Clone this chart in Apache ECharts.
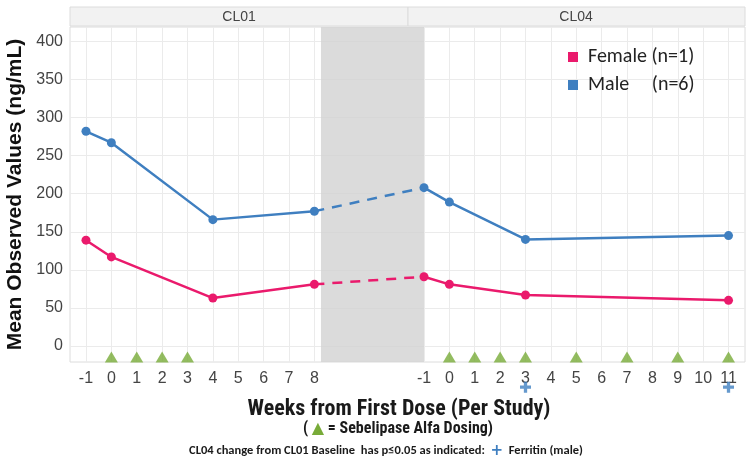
<!DOCTYPE html>
<html>
<head>
<meta charset="utf-8">
<script src="https://cdn.jsdelivr.net/npm/echarts@6/dist/echarts.min.js"></script>
<style>
html,body{margin:0;padding:0;background:#fff;}
#c{width:750px;height:461px;}
</style>
</head>
<body>
<div id="c"></div>
<script>
// ---- data ----
const studies = ['CL01', 'CL04'];
const cl01Ticks = [-1, 0, 1, 2, 3, 4, 5, 6, 7, 8];
const cl04Ticks = [-1, 0, 1, 2, 3, 4, 5, 6, 7, 8, 9, 10, 11];
const yTicks = [0, 50, 100, 150, 200, 250, 300, 350, 400];

const cl01Weeks = [-1, 0, 4, 8];
const cl04Weeks = [-1, 0, 3, 11];
const femaleCL01 = [139, 117, 63, 81];
const femaleCL04 = [91, 81, 67, 60];
const maleCL01 = [282, 267, 166, 177];
const maleCL04 = [208, 189, 140, 145];

const dosingCL01 = [0, 1, 2, 3];
const dosingCL04 = [0, 1, 2, 3, 5, 7, 9, 11];
const ferritinSigCL04 = [3, 11];

const femaleName = 'Female (n=1)';
const maleName = 'Male     (n=6)';

// ---- layout helpers ----
const CL04_OFFSET = 13.32;          // axis units where CL04 week -1 sits
const posCL01 = w => w + 1;
const posCL04 = w => w + 1 + CL04_OFFSET;
const BAND = [9.26, CL04_OFFSET];
const TRI_Y = -14.5;
const PLUS_Y = -54;

const pink = '#ea1a6c';
const blue = '#3f7fc0';
const green = '#78ab38';
const arial = "'Liberation Sans', Arial, sans-serif";
const narrow = "'Roboto Condensed', 'Liberation Sans', sans-serif";
const calibri = "Carlito, Lato, sans-serif";

const pairs = (weeks, vals, f) => weeks.map((w, i) => [f(w), vals[i]]);

const tickPositions = cl01Ticks.map(posCL01).concat(cl04Ticks.map(posCL04));
const tickLabelMap = {};
cl01Ticks.forEach(w => tickLabelMap[posCL01(w).toFixed(2)] = String(w));
cl04Ticks.forEach(w => tickLabelMap[posCL04(w).toFixed(2)] = String(w));

function solid(name, data, color) {
  return {
    name, type: 'line', data, z: 4,
    symbol: 'circle', symbolSize: 9,
    lineStyle: { color, width: 2.5 },
    itemStyle: { color },
    emphasis: { disabled: true }
  };
}
function dashed(name, data, color) {
  return {
    name, type: 'line', data, z: 3,
    showSymbol: false, symbol: 'none',
    lineStyle: { color, width: 2.5, type: [10, 8] },
    itemStyle: { color },
    emphasis: { disabled: true }
  };
}

const chart = echarts.init(document.getElementById('c'), null, { renderer: 'canvas' });
chart.setOption({
  animation: false,
  backgroundColor: '#fff',
  grid: {
    left: 70, right: 5, top: 27, bottom: 99,
    containLabel: false, outerBoundsMode: 'none',
    show: true, borderColor: '#dcdcdc', borderWidth: 1
  },
  legend: {
    data: [femaleName, maleName],
    orient: 'vertical', left: 563, top: 42,
    icon: 'rect', itemWidth: 10, itemHeight: 10, itemGap: 8,
    textStyle: { fontFamily: calibri, fontSize: 20, color: '#222', padding: [0, 0, 0, 5] },
    selectedMode: false
  },
  xAxis: {
    type: 'value', min: -0.63, max: 25.97,
    axisLine: { show: false },
    axisTick: { show: false, customValues: tickPositions },
    splitLine: { show: true, lineStyle: { color: '#ebebeb', width: 1 } },
    axisLabel: {
      customValues: tickPositions,
      formatter: v => tickLabelMap[v.toFixed(2)] ?? '',
      fontFamily: arial, fontSize: 16, color: '#444', margin: 9
    }
  },
  yAxis: {
    type: 'value', min: -21, max: 419,
    name: 'Mean Observed Values (ng/mL)', nameLocation: 'middle', nameGap: 44,
    nameTextStyle: { fontFamily: arial, fontWeight: 'bold', fontSize: 21, color: '#111' },
    axisLine: { show: false },
    axisTick: { show: false, customValues: yTicks },
    splitLine: { show: true, lineStyle: { color: '#ebebeb', width: 1 } },
    axisLabel: {
      customValues: yTicks,
      fontFamily: arial, fontSize: 16, color: '#444', margin: 7
    }
  },
  series: [
    {
      type: 'line', data: [], z: 1, silent: true,
      markArea: {
        silent: true,
        itemStyle: { color: 'rgba(210,210,210,0.8)' },
        data: [[{ xAxis: BAND[0], yAxis: -21 }, { xAxis: BAND[1], yAxis: 419 }]]
      }
    },
    solid(femaleName, pairs(cl01Weeks, femaleCL01, posCL01), pink),
    dashed(femaleName, [[posCL01(cl01Weeks[cl01Weeks.length - 1]), femaleCL01[femaleCL01.length - 1]], [posCL04(cl04Weeks[0]), femaleCL04[0]]], pink),
    solid(femaleName, pairs(cl04Weeks, femaleCL04, posCL04), pink),
    solid(maleName, pairs(cl01Weeks, maleCL01, posCL01), blue),
    dashed(maleName, [[posCL01(cl01Weeks[cl01Weeks.length - 1]), maleCL01[maleCL01.length - 1]], [posCL04(cl04Weeks[0]), maleCL04[0]]], blue),
    solid(maleName, pairs(cl04Weeks, maleCL04, posCL04), blue),
    {
      type: 'scatter', z: 5, silent: true,
      symbol: 'triangle', symbolSize: [13, 11],
      itemStyle: { color: green },
      data: dosingCL01.map(w => [posCL01(w), TRI_Y]).concat(dosingCL04.map(w => [posCL04(w), TRI_Y]))
    },
    {
      type: 'scatter', z: 5, silent: true, clip: false,
      symbol: 'path://M3.5,0h3v3.5h3.5v3h-3.5v3.5h-3v-3.5h-3.5v-3h3.5z', symbolSize: 11,
      itemStyle: { color: blue },
      data: ferritinSigCL04.map(w => [posCL04(w), PLUS_Y])
    }
  ],
  graphic: [
    { type: 'rect', shape: { x: 70, y: 7, width: 338, height: 19 }, style: { fill: '#f2f2f2', stroke: '#dcdcdc', lineWidth: 1 }, z: 10 },
    { type: 'rect', shape: { x: 408, y: 7, width: 337, height: 19 }, style: { fill: '#f2f2f2', stroke: '#dcdcdc', lineWidth: 1 }, z: 10 },
    { type: 'text', x: 239, y: 17, style: { text: studies[0], fontFamily: arial, fontSize: 14, fill: '#444', textAlign: 'center', textVerticalAlign: 'middle' }, z: 11 },
    { type: 'text', x: 576, y: 17, style: { text: studies[1], fontFamily: arial, fontSize: 14, fill: '#444', textAlign: 'center', textVerticalAlign: 'middle' }, z: 11 },
    { type: 'text', x: 399, y: 409, style: { text: 'Weeks from First Dose (Per Study)', fontFamily: narrow, fontWeight: 'bold', fontSize: 22, fill: '#1a1a1a', textAlign: 'center', textVerticalAlign: 'middle' } },
    { type: 'text', x: 398, y: 429, style: {
        text: '( {t|▲} = Sebelipase Alfa Dosing)',
        fontFamily: narrow, fontWeight: 'bold', fontSize: 16, fill: '#1a1a1a', textAlign: 'center', textVerticalAlign: 'middle',
        rich: { t: { fill: green, fontSize: 16, fontFamily: 'DejaVu Sans' } }
    } },
    { type: 'text', x: 386, y: 451, style: {
        text: 'CL04 change from CL01 Baseline  has p\u22640.05 as indicated:  {p|+}  Ferritin (male)',
        fontFamily: calibri, fontWeight: 'bold', fontSize: 12.5, fill: '#1a1a1a', textAlign: 'center', textVerticalAlign: 'middle',
        rich: { p: { fill: blue, fontSize: 15, fontWeight: 'bold', fontFamily: 'DejaVu Sans' } }
    } }
  ]
});
</script>
</body>
</html>
